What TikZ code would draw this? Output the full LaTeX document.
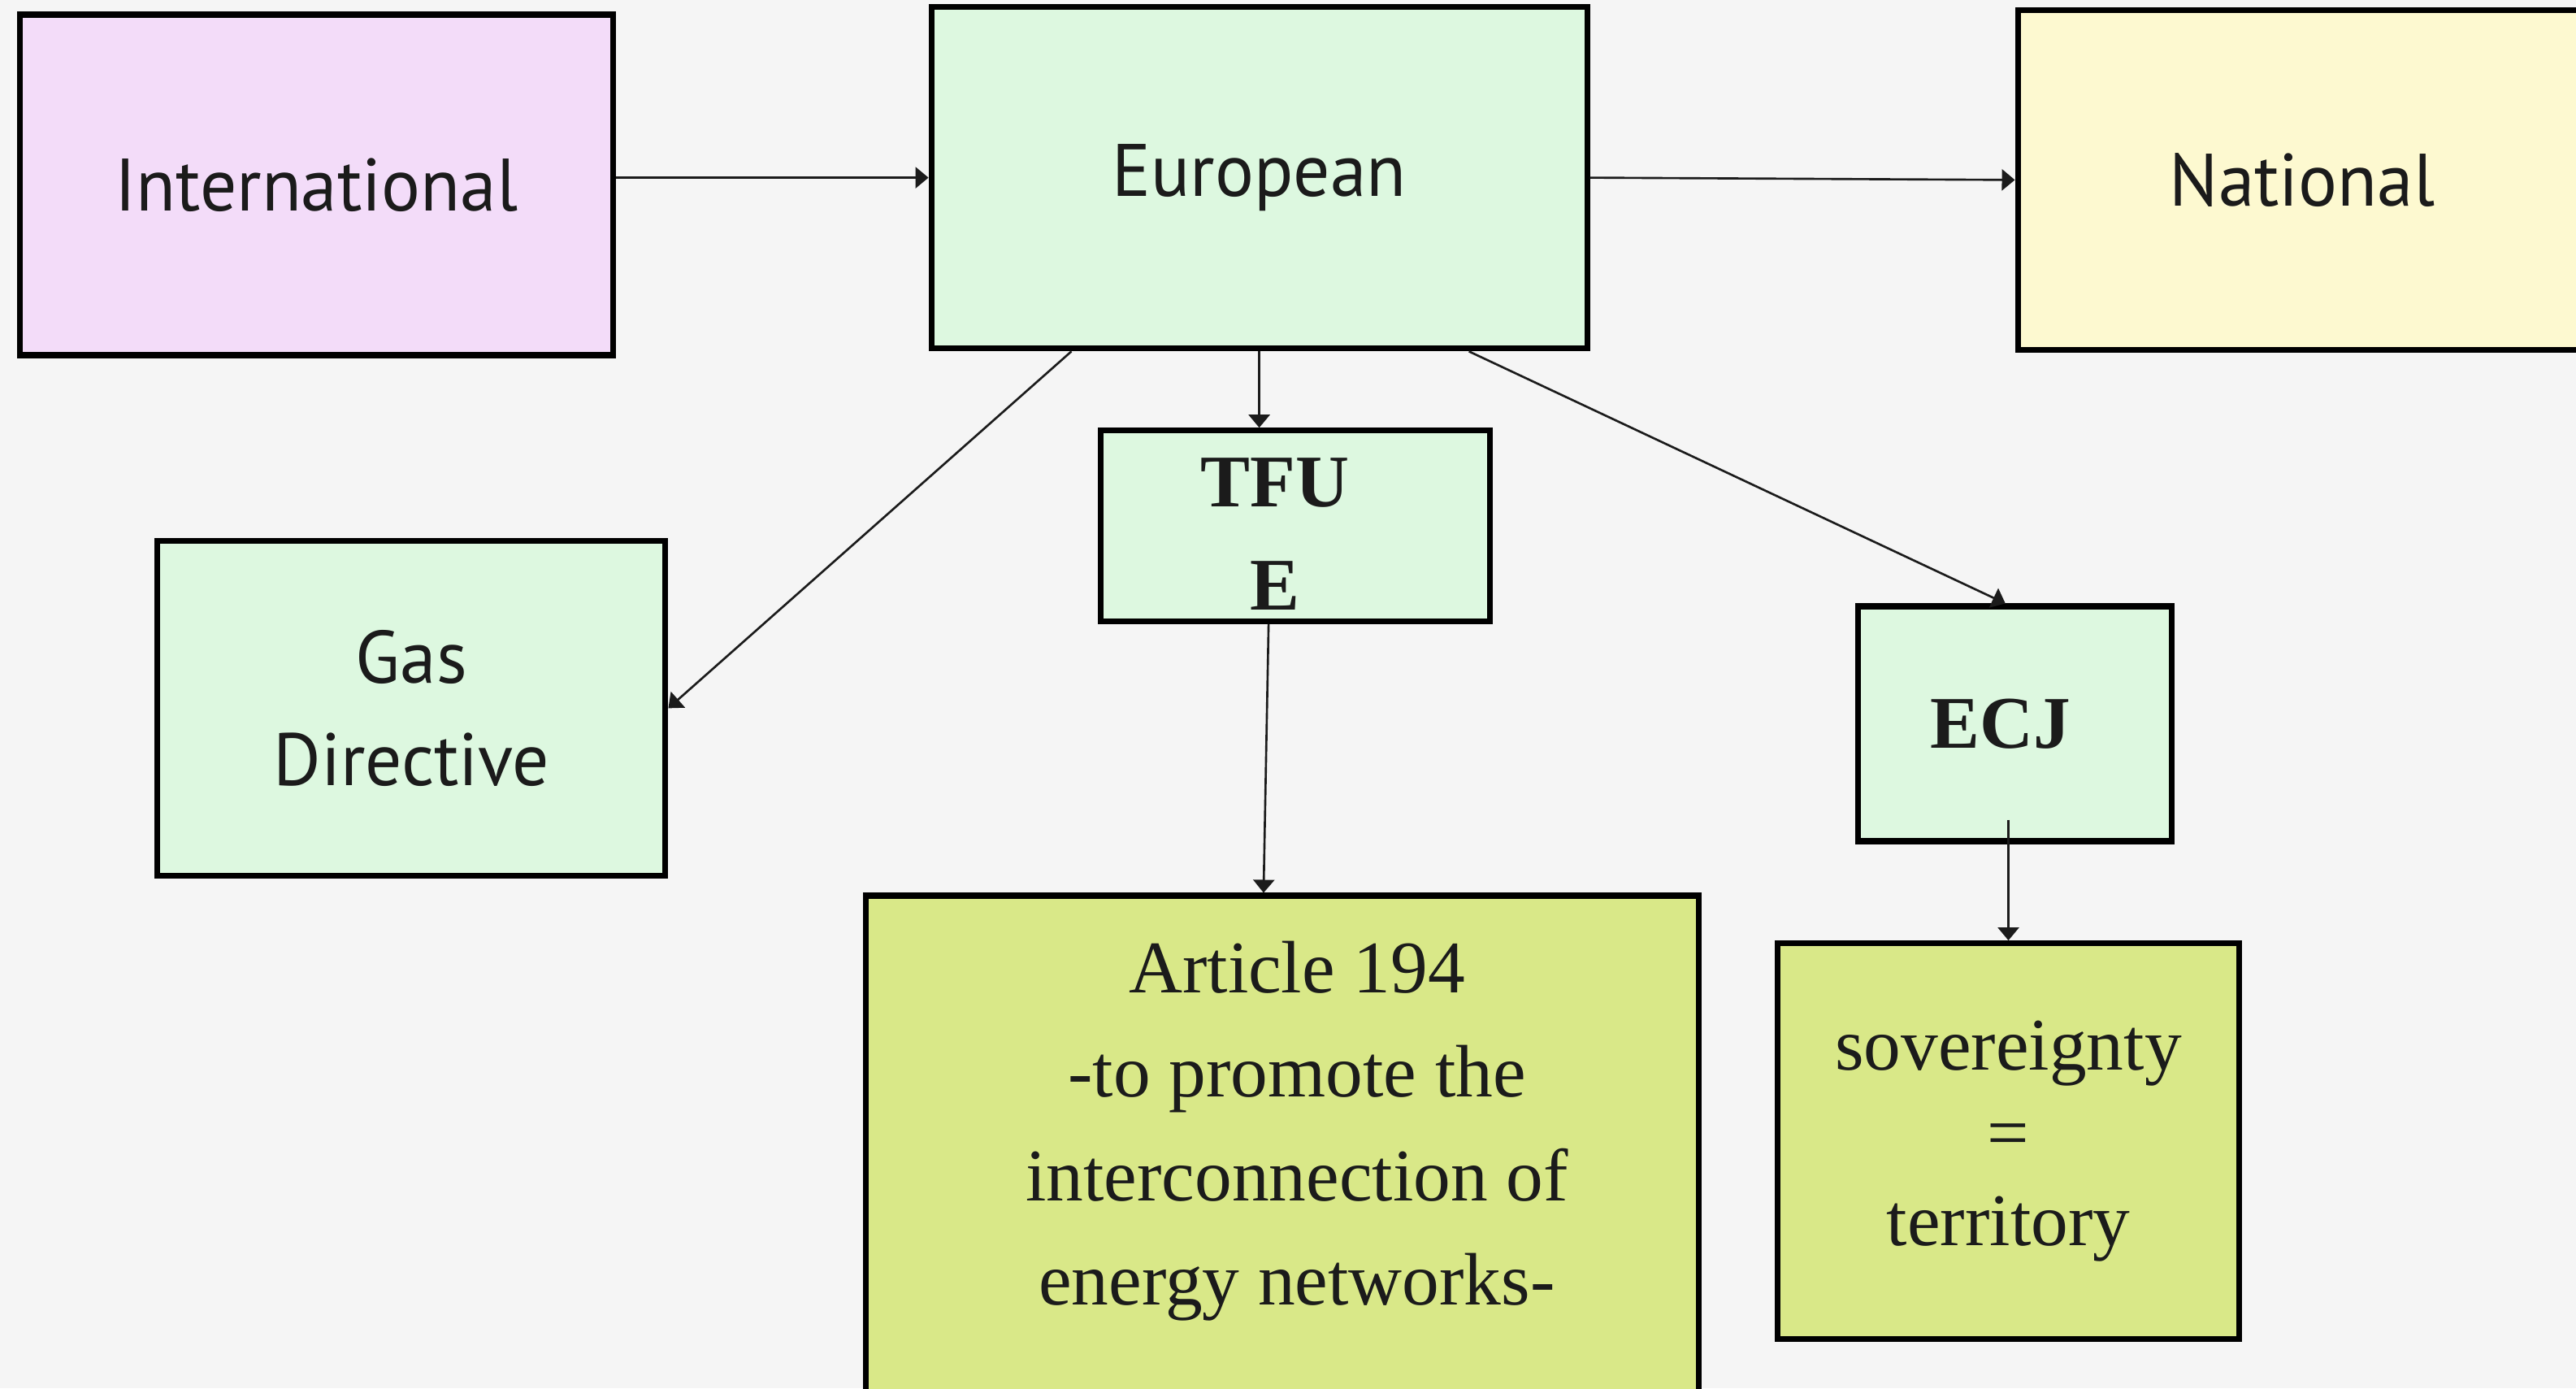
\documentclass[tikz,border=0pt]{standalone}
\usepackage{fontspec}
\setmainfont{Liberation Serif}
\newfontfamily\boxsans[FakeStretch=0.98]{PT Sans}
\usetikzlibrary{arrows.meta,calc}
\definecolor{bgGrey}{HTML}{F5F5F5}
\definecolor{inkDark}{HTML}{1B1B1B}
\definecolor{intlPink}{HTML}{F3DCF9}
\definecolor{euroGreen}{HTML}{DDF8E0}
\definecolor{natlYellow}{HTML}{FDF9D0}
\definecolor{artOlive}{HTML}{D9E888}

\begin{document}
\begin{tikzpicture}[
    box/.style={draw=black, line width=2pt, inner sep=0pt, align=center, text=inkDark},
    sanslabel/.style={font=\boxsans\fontsize{26}{36}\selectfont},
    seriflabel/.style={text=inkDark, align=center, inner sep=0pt, font=\fontsize{26}{36.4}\selectfont},
    boldlabel/.style={seriflabel, font=\bfseries\fontsize{26}{36.2}\selectfont},
    arr/.style={draw=inkDark, line width=0.75pt, -{Triangle[length=0.16cm,width=0.26cm]}}
]
    \fill[bgGrey] (0,0) rectangle (31.70,17.08);
    \useasboundingbox (0,0) rectangle (31.70,17.08);
    \clip (0,0) rectangle (31.70,17.08);

    \node[box, sanslabel, fill=intlPink, minimum width=7.30cm, minimum height=4.19cm] (intl) at (3.894,14.805) {International};
    \node[box, sanslabel, fill=euroGreen, minimum width=8.07cm, minimum height=4.205cm] (euro) at (15.496,14.894) {European};
    \node[box, sanslabel, fill=natlYellow, minimum width=7.00cm, minimum height=4.185cm] (natl) at (28.33,14.866) {National};
    \node[box, sanslabel, fill=euroGreen, minimum width=6.25cm, minimum height=4.125cm] (gas) at (5.064,8.366) {Gas\\Directive};

    \node[box, fill=euroGreen, minimum width=4.79cm, minimum height=2.345cm] (tfue) at (15.941,10.61) {};
    \node[boldlabel] (tfuetext) at (15.69,10.51) {TFU\\E};
    \node[box, boldlabel, fill=euroGreen, minimum width=3.86cm, minimum height=2.89cm] (ecj) at (24.796,8.175) {ECJ\hspace*{0.36cm}};

    \node[box, fill=artOlive, minimum width=10.25cm, minimum height=7.06cm] (art) at (15.779,2.53) {};
    \node[seriflabel] (arttext) at (15.96,3.16) {Article 194\\-to promote the\\interconnection of\\energy networks-};
    \node[box, seriflabel, font=\fontsize{26}{30.7}\selectfont, fill=artOlive, minimum width=5.68cm, minimum height=4.87cm] (sov) at (24.715,3.039) {sovereignty\\=\\territory};

    \draw[arr] (intl.east |- euro.west) -- (euro.west);
    \draw[arr] (euro.east) -- (natl.west);
    \draw[arr] ($(euro.south west)!0.216!(euro.south east)$) -- (gas.east);
    \draw[arr] (euro.south) -- (euro.south |- tfue.north);
    \draw[arr] ($(euro.south west)!0.817!(euro.south east)$) -- ($(ecj.north west)!0.47!(ecj.north east)$);
    \draw[arr] ([xshift=-0.33cm]tfue.south) -- ([xshift=-0.23cm]art.north);
    \draw[arr] ([yshift=0.30cm]ecj.south -| sov.north) -- (sov.north);
\end{tikzpicture}
\end{document}
